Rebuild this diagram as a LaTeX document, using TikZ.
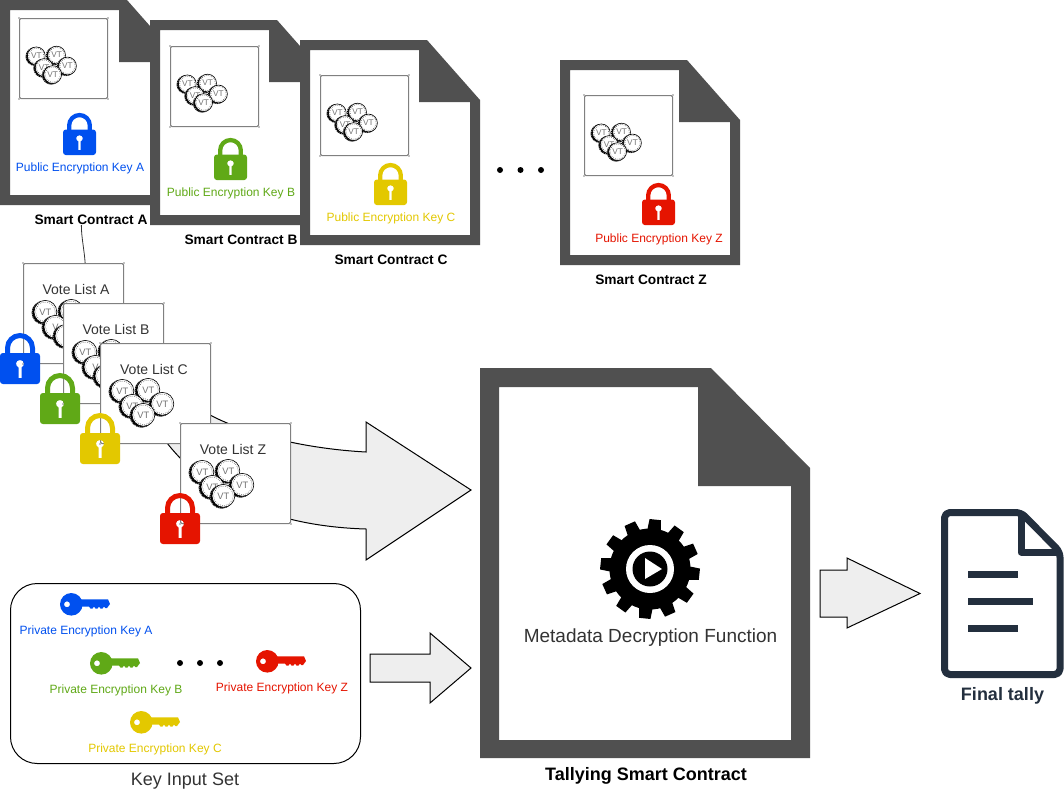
\documentclass[tikz,border=0pt]{standalone}
\usepackage{fontspec}
\setmainfont{Liberation Sans}
\definecolor{kblue}{HTML}{0050EF}
\definecolor{kgreen}{HTML}{60A917}
\definecolor{kyellow}{HTML}{E3C800}
\definecolor{kred}{HTML}{E51400}
\definecolor{docgrey}{HTML}{505050}
\definecolor{txtdark}{HTML}{333333}
\definecolor{navy}{HTML}{232F3E}
\definecolor{arrowfill}{HTML}{EEEEEE}
\newcommand{\fsA}{\fontsize{9}{11}\selectfont}
\newcommand{\fsB}{\fontsize{10.5}{12.5}\selectfont}
\newcommand{\fsT}{\fontsize{10.3}{12.5}\selectfont}
\newcommand{\fsC}{\fontsize{13.5}{16}\selectfont}
\newcommand{\fsD}{\fontsize{14.25}{17}\selectfont}
\newcommand{\fsV}{\fontsize{7}{8}\selectfont}
\newcommand{\fsS}{\fontsize{6.2}{7}\selectfont}
\tikzset{
  x=0.75pt,y=-0.75pt,
  flowarrow/.style={draw=black,line width=0.75pt,fill=arrowfill,line join=miter},
  coinbox/.style={draw=black!50,line width=0.75pt,fill=white,inner sep=0,anchor=north west,rounded corners=1pt},
  votebox/.style={draw=black!50,line width=0.75pt,fill=white,inner sep=0,anchor=north west,rounded corners=1pt},
  lab/.style={inner sep=0,align=center},
  title/.style={lab,font=\fsT\bfseries,text=black},
  pubkey/.style={lab,font=\fsA},
  votetitle/.style={lab,font=\fsB,text=txtdark},
  dotmark/.style={fill=black,circle,inner sep=0,minimum size=4.5pt},
  pics/docicon/.style={code={
    \fill[white] (10,10)--(119,10)--(119,62)--(170,62)--(170,195)--(10,195)--cycle;
    \fill[docgrey,even odd rule] (0,0)--(127,0)--(180,60)--(180,205)--(0,205)--cycle
      (10,10)--(119,10)--(119,62)--(170,62)--(170,195)--(10,195)--cycle;
  }},
  pics/lockicon/.style 2 args={code={
    \draw[#1,line width=#2] (7.5,24)--(7.5,15) arc[start angle=180,end angle=360,radius=12.5]--(32.5,24);
    \fill[#1,even odd rule,rounded corners=2.2pt] (0,20) rectangle (40,51)
      [sharp corners] (18.5,45)--(18.5,34.5) .. controls (15,33) and (15,27) .. (20,27)
      .. controls (25,27) and (25,33) .. (21.5,34.5)--(21.5,45)--cycle;
  }},
  pics/keyicon/.style={code={
    \fill[#1,even odd rule] (11.3,11.3) circle[radius=11.3] (7,11.3) circle[radius=3];
    \fill[#1] (19,6.3)--(48,6.3)--(50,11)--(47,15)--(45.5,15)--(44,13.5)--(42.5,15.5)--(40.5,15.5)
      --(39,13.5)--(37.5,15.5)--(35.5,15.5)--(34,13.5)--(32.5,15.5)--(30.5,15.5)--(29,13.5)--(22,13.5)--(19,17)--cycle;
  }},
  pics/coinset/.style={code={
    \foreach \cx/\cy in {0/0,26/-1,10/15,40/13,21/24}{
      \fill[black] (\cx-1.4,\cy+0.7) circle[radius=12];
      \draw[white,line width=0.4pt,dash pattern=on 0.5pt off 1pt] (\cx-1.4,\cy+0.7) circle[radius=11.5];
      \draw[black,line width=0.45pt,fill=white] (\cx+0.4,\cy-0.2) circle[radius=11.4];
      \draw[black!75,line width=0.4pt,dash pattern=on 0.5pt off 1pt] (\cx+0.4,\cy-0.2) circle[radius=9.8];
      \node[inner sep=0,text=black!55,font=#1] at (\cx+0.4,\cy-0.2) {VT};
    }
  }},
  pics/coinsback/.style={code={
    \foreach \cx/\cy/\ct in {0/0/VT,26/-1/,10/15/V,21/24/}{
      \fill[black] (\cx-1.4,\cy+0.7) circle[radius=12];
      \draw[white,line width=0.4pt,dash pattern=on 0.5pt off 1pt] (\cx-1.4,\cy+0.7) circle[radius=11.5];
      \draw[black,line width=0.45pt,fill=white] (\cx+0.4,\cy-0.2) circle[radius=11.4];
      \draw[black!75,line width=0.4pt,dash pattern=on 0.5pt off 1pt] (\cx+0.4,\cy-0.2) circle[radius=9.8];
      \node[inner sep=0,text=black!55,font=\fsV] at (\cx+0.4,\cy-0.2) {\ct};
    }
  }},
}
\newcommand{\ticks}[1]{%
  \fill[black] (#1.north west) ++(0,0) circle[radius=0.55] (#1.north east) circle[radius=0.55]
    (#1.south west) circle[radius=0.55] (#1.south east) circle[radius=0.55];}
\begin{document}
\begin{tikzpicture}
\useasboundingbox (0,0) rectangle (1064,793);
\fill[white] (0,0) rectangle (1064,793);

% smart contracts
\pic at (0,0) {docicon};
\node[coinbox,minimum width=66pt,minimum height=60pt] (boxA) at (19,18) {};
\ticks{boxA}
\pic[scale=0.78] at (36,56) {coinset={\fsS}};
\pic[scale=0.825] at (63,113) {lockicon={kblue}{3.2pt}};
\node[pubkey,text=kblue] (pubA) at (80,168) {Public Encryption Key A};
\node[title] (scA) at (91,220) {Smart Contract A};

\pic at (150,20) {docicon};
\node[coinbox,minimum width=66pt,minimum height=60pt] (boxB) at (170,46) {};
\ticks{boxB}
\pic[scale=0.78] at (187,84) {coinset={\fsS}};
\pic[scale=0.825] at (214,138) {lockicon={kgreen}{3.2pt}};
\node[pubkey,text=kgreen] (pubB) at (231,193) {Public Encryption Key B};
\node[title] (scB) at (241,240) {Smart Contract B};

\pic at (300,40) {docicon};
\node[coinbox,minimum width=66pt,minimum height=60pt] (boxC) at (320,75) {};
\ticks{boxC}
\pic[scale=0.78] at (337,113) {coinset={\fsS}};
\pic[scale=0.825] at (374,163) {lockicon={kyellow}{3.2pt}};
\node[pubkey,text=kyellow] (pubC) at (391,218) {Public Encryption Key C};
\node[title] (scC) at (391,260) {Smart Contract C};

\pic at (560,60) {docicon};
\node[coinbox,minimum width=66pt,minimum height=60pt] (boxZ) at (584,95) {};
\ticks{boxZ}
\pic[scale=0.78] at (601,133) {coinset={\fsS}};
\pic[scale=0.825] at (642,183) {lockicon={kred}{3.2pt}};
\node[pubkey,text=kred] (pubZ) at (659,239) {Public Encryption Key Z};
\node[title] (scZ) at (651,280) {Smart Contract Z};

\node[dotmark] (d1) at (500,170) {};
\node[dotmark] (d2) at (520.5,170) {};
\node[dotmark] (d3) at (541,170) {};

% big arrow behind vote lists
\path[flowarrow] (210,415) .. controls (250,436) and (310,449) .. (366,452)
  -- (366,422) -- (471,490) -- (366,560) -- (366,529)
  .. controls (300,527) and (220,510) .. (167,443) -- cycle;

% vote lists
\node[votebox,minimum width=75pt,minimum height=75pt] (voteA) at (23,263) {};
\ticks{voteA}
\node[votetitle] (tA) at (76,289) {Vote List A};
\pic at (45,312) {coinsback};
\pic at (0,333) {lockicon={kblue}{3.75pt}};

\node[votebox,minimum width=75pt,minimum height=75pt] (voteB) at (63,303) {};
\ticks{voteB}
\node[votetitle] (tB) at (116,329) {Vote List B};
\pic at (85,352) {coinsback};
\pic at (40,373) {lockicon={kgreen}{3.75pt}};

\node[votebox,minimum width=82.5pt,minimum height=75pt] (voteC) at (100,343) {};
\ticks{voteC}
\node[votetitle] (tC) at (154,369) {Vote List C};
\pic at (122,391) {coinset={\fsV}};
\pic at (80,413) {lockicon={kyellow}{3.75pt}};

\node[votebox,minimum width=82.5pt,minimum height=75pt] (voteZ) at (180,423) {};
\ticks{voteZ}
\node[votetitle] (tZ) at (233,449) {Vote List Z};
\pic at (202,472) {coinset={\fsV}};
\pic at (160,493) {lockicon={kred}{3.75pt}};

\draw[txtdark,line width=0.6pt] (scA.208) .. controls +(0,12) and +(-1,-14) .. (voteA.77.6);

% key set
\node[draw=black,line width=0.75pt,rounded corners=20pt,minimum width=262.5pt,minimum height=135pt,inner sep=0,anchor=north west] (keyset) at (10,583) {};
\pic at (60,593) {keyicon=kblue};
\node[pubkey,text=kblue] (prA) at (86,631) {Private Encryption Key A};
\pic at (90,652) {keyicon=kgreen};
\node[pubkey,text=kgreen] (prB) at (116,690) {Private Encryption Key B};
\pic at (256,650) {keyicon=kred};
\node[pubkey,text=kred] (prZ) at (282,688) {Private Encryption Key Z};
\pic at (130,711) {keyicon=kyellow};
\node[pubkey,text=kyellow] (prC) at (155,749) {Private Encryption Key C};
\node[dotmark] (k1) at (180,663) {};
\node[dotmark] (k2) at (200,663) {};
\node[dotmark] (k3) at (220,663) {};
\node[lab,font=\fsC,text=txtdark] (keylab) at (185,781.5) {Key Input Set};

\path[flowarrow] (370,654)--(430,654)--(430,633)--(471,668)--(430,703)--(430,682)--(370,682)--cycle;

% tallying contract
\fill[docgrey,even odd rule] (480,368)--(711,368)--(810,468)--(810,758)--(480,758)--cycle
  (499,387)--(698,387)--(698,486)--(791,486)--(791,740)--(499,740)--cycle;
\begin{scope}[shift={(650,569)}]
  \fill[black] (0,0) circle[radius=40.5];
  \foreach \a in {-84,-54,...,246}{
    \fill[black] (\a-10:39)--(\a-6.5:50)--(\a+6.5:50)--(\a+10:39)--cycle;
  }
  \fill[white] (0,0) circle[radius=24];
  \fill[black] (0,0) circle[radius=17.5];
  \fill[white] (-5,-11)--(12,0)--(-5,10)--cycle;
\end{scope}
\node[lab,font=\fsD,text=txtdark] (func) at (650.5,637.5) {Metadata Decryption Function};
\node[lab,font=\fsC\bfseries,text=black] (tally) at (646,776) {Tallying Smart Contract};

\path[flowarrow] (820,570)--(847,570)--(847,558)--(920,593.5)--(847,628)--(847,617)--(820,617)--cycle;

% final tally
\draw[navy,line width=5.25pt,line join=round,rounded corners=4pt] (944.5,512.5)--(1021,512.5)--(1060,552)--(1060,674.5)--(944.5,674.5)--cycle;
\draw[navy,line width=5.25pt,line join=round] (1021,512.5)--(1021,552)--(1060,552);
\fill[navy] (968,571) rectangle (1018,578);
\fill[navy] (968,598) rectangle (1033,605);
\fill[navy] (968,625) rectangle (1018,632);
\node[lab,font=\fsC\bfseries,text=navy] (final) at (1002.5,696) {Final tally};
\end{tikzpicture}
\end{document}
